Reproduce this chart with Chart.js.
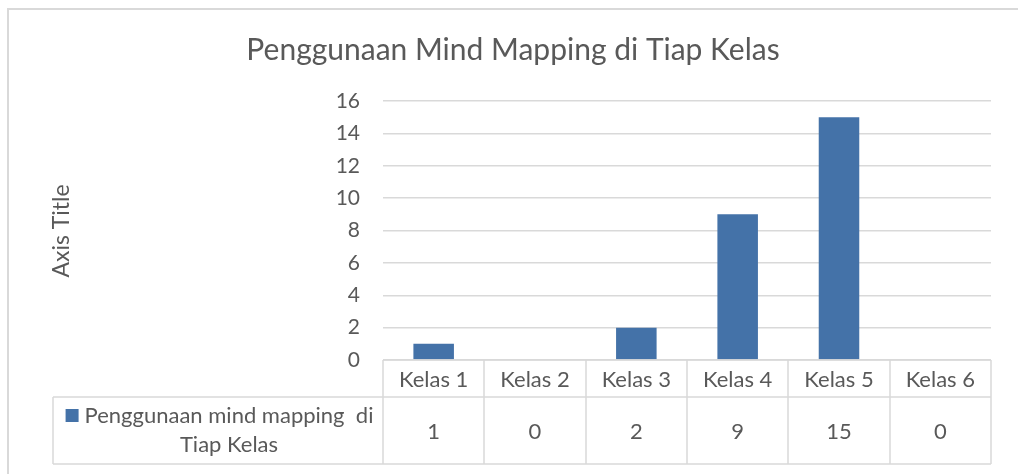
<!DOCTYPE html>
<html>
<head>
<meta charset="utf-8">
<script src="https://cdn.jsdelivr.net/npm/chart.js@4.4.1/dist/chart.umd.min.js"></script>
<style>
  html, body { margin: 0; padding: 0; background: #ffffff; }
  #wrap { width: 1018px; height: 474px; position: relative; }
</style>
</head>
<body>
<div id="wrap"><canvas id="c" width="1018" height="474"></canvas></div>
<script>
const chartTitle = 'Penggunaan Mind Mapping di Tiap Kelas';
const yAxisTitle = 'Axis Title';
const categories = ['Kelas 1', 'Kelas 2', 'Kelas 3', 'Kelas 4', 'Kelas 5', 'Kelas 6'];
const values = [1, 0, 2, 9, 15, 0];
const seriesName = 'Penggunaan mind mapping  di Tiap Kelas';
const legendLines = ['Penggunaan mind mapping  di', 'Tiap Kelas'];
const yMin = 0, yMax = 16, yStep = 2;

const FONT = 'Lato, "Open Sans", sans-serif';
const TEXT = '#595959';
const LINE = '#d9d9d9';
const BAR = '#4472A8';

const tablePlugin = {
  id: 'excelTable',
  afterDraw(chart) {
    const ctx = chart.ctx;
    const x = chart.scales.x;
    const area = chart.chartArea;
    const n = categories.length;
    const colW = (area.right - area.left) / n;
    const rowTop = area.bottom;
    const rowMid = rowTop + 37;
    const rowBot = rowTop + 104;
    const legendLeft = 53;
    ctx.save();
    // outer chart border
    ctx.strokeStyle = LINE;
    ctx.lineWidth = 2;
    ctx.strokeRect(8, 9, 1040, 500);
    // title
    ctx.fillStyle = TEXT;
    ctx.font = '30px ' + FONT;
    ctx.textAlign = 'center';
    ctx.textBaseline = 'alphabetic';
    ctx.fillText(chartTitle, 513, 60);
    // y axis title
    ctx.save();
    ctx.translate(62, 231);
    ctx.rotate(-Math.PI / 2);
    ctx.font = '23px ' + FONT;
    ctx.textBaseline = 'middle';
    ctx.fillText(yAxisTitle, 0, 0);
    ctx.restore();
    // table lines
    ctx.strokeStyle = LINE;
    ctx.lineWidth = 1.5;
    ctx.beginPath();
    ctx.moveTo(area.left, rowTop); ctx.lineTo(area.right, rowTop);
    ctx.moveTo(legendLeft, rowMid); ctx.lineTo(area.right, rowMid);
    ctx.moveTo(legendLeft, rowBot); ctx.lineTo(area.right, rowBot);
    ctx.moveTo(legendLeft, rowMid); ctx.lineTo(legendLeft, rowBot);
    for (let i = 0; i <= n; i++) {
      const bx = Math.round(x.getPixelForValue(0) - colW / 2 + i * colW);
      ctx.moveTo(bx, rowTop); ctx.lineTo(bx, rowBot);
    }
    ctx.stroke();
    // category labels and values
    ctx.fillStyle = TEXT;
    ctx.font = '22px ' + FONT;
    ctx.textAlign = 'center';
    ctx.textBaseline = 'middle';
    for (let i = 0; i < n; i++) {
      const cx = x.getPixelForValue(i);
      ctx.fillText(categories[i], cx, (rowTop + rowMid) / 2 + 1);
      ctx.fillText(String(values[i]), cx, (rowMid + rowBot) / 2 + 1);
    }
    // legend cell
    const lcx = 229;
    ctx.fillText(legendLines[0], lcx, rowMid + 19);
    ctx.fillText(legendLines[1], lcx, rowMid + 48);
    const w0 = ctx.measureText(legendLines[0]).width;
    ctx.fillStyle = BAR;
    ctx.fillRect(lcx - w0 / 2 - 19, rowMid + 12, 13, 13);
    ctx.restore();
  }
};

new Chart(document.getElementById('c'), {
  type: 'bar',
  data: {
    labels: categories,
    datasets: [{
      label: seriesName,
      data: values,
      backgroundColor: BAR,
      borderWidth: 0,
      categoryPercentage: 1,
      barPercentage: 0.4
    }]
  },
  options: {
    responsive: false,
    animation: false,
    devicePixelRatio: 1,
    layout: { padding: { left: 0, right: 27, top: 101, bottom: 114 } },
    plugins: {
      legend: { display: false },
      title: { display: false },
      tooltip: { enabled: false }
    },
    scales: {
      x: { display: false, offset: true },
      y: {
        min: yMin, max: yMax,
        border: { display: false },
        grid: { color: LINE, lineWidth: 1.5, drawTicks: false },
        ticks: { stepSize: yStep, padding: 23, color: TEXT, font: { family: FONT, size: 21 } },
        afterFit(scale) { scale.width = 383; }
      }
    }
  },
  plugins: [tablePlugin]
});
</script>
</body>
</html>
